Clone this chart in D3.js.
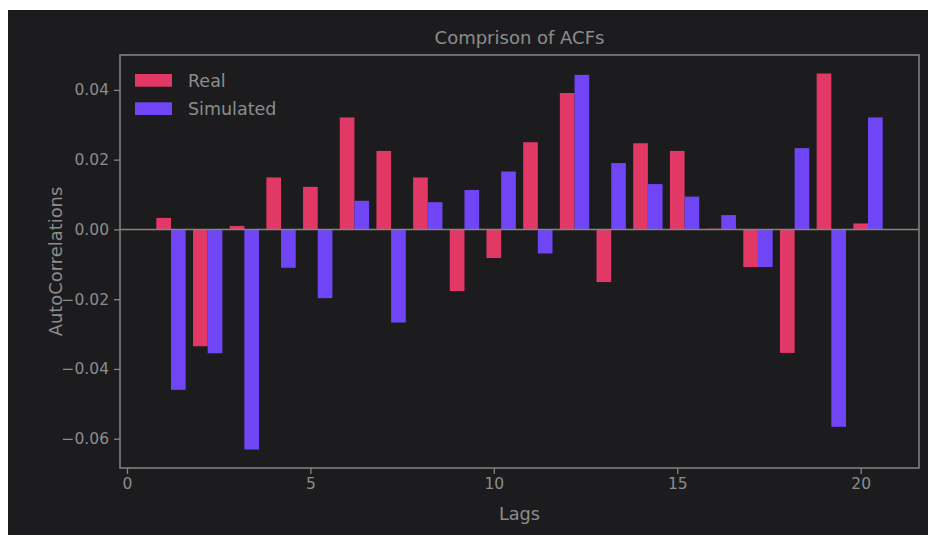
<!DOCTYPE html>
<html>
<head>
<meta charset="utf-8">
<script src="https://cdn.jsdelivr.net/npm/d3@7"></script>
<style>
  html, body { margin: 0; padding: 0; background: #ffffff; }
  svg { display: block; }
  text { font-family: "DejaVu Sans", sans-serif; }
</style>
</head>
<body>
<script>
const lags = [1,2,3,4,5,6,7,8,9,10,11,12,13,14,15,16,17,18,19,20];
const realACF = [0.0033,-0.0335,0.0010,0.0149,0.0122,0.0321,0.0225,0.0149,-0.0177,-0.0082,0.0250,0.0391,-0.0151,0.0247,0.0225,0.0002,-0.0108,-0.0354,0.0447,0.0017];
const simACF  = [-0.0460,-0.0355,-0.0631,-0.0110,-0.0197,0.0082,-0.0267,0.0078,0.0113,0.0166,-0.0069,0.0443,0.0190,0.0130,0.0094,0.0041,-0.0108,0.0233,-0.0566,0.0321];
const xTicks = [0,5,10,15,20];
const yTicks = [-0.06,-0.04,-0.02,0.00,0.02,0.04];
const seriesNames = ["Real","Simulated"];
const colors = ["#e23866","#7045f6"];

const W = 928, H = 535;
const svg = d3.select("body").append("svg").attr("width", W).attr("height", H);
svg.append("rect").attr("x", 8).attr("y", 10).attr("width", W - 8).attr("height", H - 10).attr("fill", "#1c1c1e");

const L = 120, R = 919, T = 55, B = 468;
const barW = 0.4;
const x = d3.scaleLinear().domain([-0.19, 21.59]).range([L, R]);
const y = d3.scaleLinear().domain([-0.0684, 0.0500]).range([B, T]);
const textCol = "#8c8c8c", axisCol = "#858585";

const g = svg.append("g");
// bars
const data = lags.map((l, i) => ({ l, r: realACF[i], s: simACF[i] }));
[["r", 0, 0], ["s", 1, barW]].forEach(([k, ci, off]) => {
  g.selectAll(null).data(data).enter().append("rect")
    .attr("x", d => x(d.l + off - barW / 2))
    .attr("width", d => x(d.l + off + barW / 2) - x(d.l + off - barW / 2))
    .attr("y", d => y(Math.max(0, d[k])))
    .attr("height", d => Math.abs(y(d[k]) - y(0)))
    .attr("fill", colors[ci]);
});
// zero line
g.append("line").attr("x1", L).attr("x2", R).attr("y1", y(0)).attr("y2", y(0))
  .attr("stroke", axisCol).attr("stroke-width", 1.5);

// frame
g.append("rect").attr("x", L).attr("y", T).attr("width", R - L).attr("height", B - T)
  .attr("fill", "none").attr("stroke", axisCol).attr("stroke-width", 1.5);

// axes
const xa = svg.append("g").attr("transform", `translate(0,${B})`)
  .call(d3.axisBottom(x).tickValues(xTicks).tickFormat(d3.format("d")).tickSize(6).tickPadding(4));
const ya = svg.append("g").attr("transform", `translate(${L},0)`)
  .call(d3.axisLeft(y).tickValues(yTicks).tickFormat(d => d3.format(".2f")(d).replace("-", "\u2212")).tickSize(6).tickPadding(5));
[xa, ya].forEach(a => {
  a.select(".domain").remove();
  a.selectAll(".tick line").attr("stroke", axisCol).attr("stroke-width", 1.3);
  a.selectAll(".tick text").attr("fill", textCol).style("font-size", "15.5px").style("font-family", "DejaVu Sans");
});

// labels
svg.append("text").attr("x", (L + R) / 2).attr("y", 44).attr("text-anchor", "middle")
  .attr("fill", textCol).style("font-size", "18px").text("Comprison of ACFs");
svg.append("text").attr("x", (L + R) / 2).attr("y", 519.5).attr("text-anchor", "middle")
  .attr("fill", textCol).style("font-size", "17.7px").text("Lags");
svg.append("text").attr("transform", `translate(62,${(T + B) / 2}) rotate(-90)`).attr("text-anchor", "middle")
  .attr("fill", textCol).style("font-size", "17.9px").text("AutoCorrelations");

// legend
const leg = svg.append("g");
seriesNames.forEach((n, i) => {
  leg.append("rect").attr("x", 135).attr("y", 74 + i * 28.3).attr("width", 37).attr("height", 12.7).attr("fill", colors[i]);
  leg.append("text").attr("x", 188).attr("y", 87 + i * 28.3).attr("fill", textCol)
    .style("font-size", "17.5px").text(n);
});
</script>
</body>
</html>
